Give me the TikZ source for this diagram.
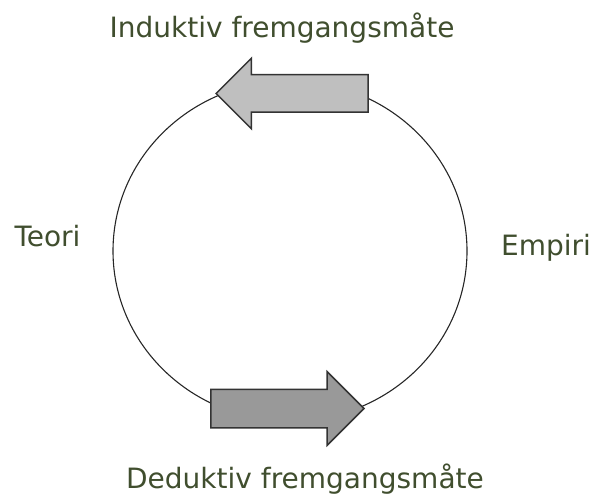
\documentclass[tikz,border=0pt]{standalone}
\usepackage{fontspec}
\setmainfont{DejaVu Sans}
\usetikzlibrary{shapes.arrows}
\definecolor{textgreen}{RGB}{64,78,46}

\begin{document}
\begin{tikzpicture}[
    x=1pt, y=-1pt,
    steptext/.style={text=textgreen, font=\fontsize{28}{32}\selectfont, anchor=base, inner sep=0pt},
    blockarrow/.style={single arrow, draw=black!80, line width=1.5pt, inner sep=0pt, anchor=tip}
]
    \useasboundingbox (0,0) rectangle (594,494);

    % --- Syklus ---
    \coordinate (mid) at (290,251);
    \draw[black!85, line width=1.1pt] (mid) ellipse [x radius=177, y radius=170];

    % --- Piler ---
    \node[blockarrow, fill=black!25, shape border rotate=180, minimum height=152pt,
          text height=18pt, text depth=18pt, single arrow head extend=16.5pt] (induk) at (215,93.5) {};
    \node[blockarrow, fill=black!40, minimum height=153pt,
          text height=18.5pt, text depth=18.5pt, single arrow head extend=17.5pt] (deduk) at (365,408.5) {};

    % --- Tekster ---
    \node[steptext] (indtext) at (282,38) {Induktiv fremgangsmåte};
    \node[steptext] (dedtext) at (305,488) {Deduktiv fremgangsmåte};
    \node[steptext] (teori) at (47.5,247) {Teori};
    \node[steptext] (empiri) at (546,255) {Empiri};

\end{tikzpicture}
\end{document}
